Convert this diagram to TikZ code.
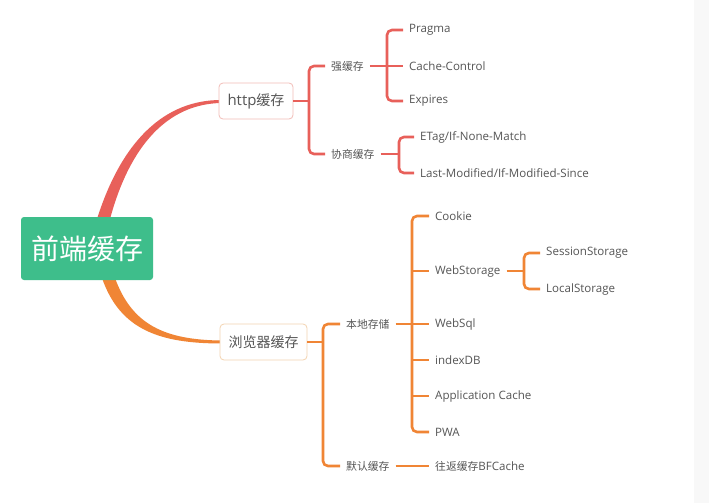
\documentclass[tikz,border=0pt]{standalone}
\usepackage{fontspec}
\setmainfont{Open Sans}[Scale=1.07]
\newfontfamily\cjk{Noto Sans CJK SC}
\definecolor{redc}{HTML}{E8605A}
\definecolor{redl}{HTML}{F2BDB8}
\definecolor{orc}{HTML}{F08535}
\definecolor{orl}{HTML}{F3D3B0}
\definecolor{greenc}{HTML}{3EBE8B}
\definecolor{txt}{HTML}{555555}
\definecolor{panel}{HTML}{F8F8F8}
\begin{document}
\begin{tikzpicture}[x=1pt,y=-1pt,
  leaf/.style={anchor=west, inner xsep=6pt, inner ysep=2pt, text=txt, font=\fontsize{10.8}{12}\selectfont},
  midbox/.style={rounded corners=4pt, fill=white, line width=0.8pt, text=txt, inner sep=0pt, minimum height=36pt, font=\fontsize{14}{15}\selectfont},
  rline/.style={draw=redc, line width=2.6pt, rounded corners=5pt},
  oline/.style={draw=orc, line width=2.6pt, rounded corners=5pt}]
\fill[white] (0,0) rectangle (709,503);
\useasboundingbox (0,0) rectangle (709,503);
\fill[panel] (694,0) rectangle (709,503);

% tapered main branches
\fill[redc] (97,219) .. controls (122,140) and (165,100) .. (221,100)
  -- (221,103) .. controls (168,104) and (130,145) .. (110,219) -- cycle;
\fill[orc] (102,278) .. controls (120,330) and (160,343.5) .. (222,343.5)
  -- (222,340.5) .. controls (165,340) and (132,325) .. (115,278) -- cycle;

\node[rounded corners=3pt, fill=greenc, text=white, minimum width=132pt, minimum height=63pt, inner sep=0pt, font=\fontsize{28}{30}\selectfont] (root) at (87,248.5) {\cjk 前端缓存};

\node[midbox, draw=redl, minimum width=74pt] (http) at (256,101) {http{\cjk 缓存}};
\node[midbox, draw=orl, minimum width=87pt] (brow) at (263.5,342) {\cjk 浏览器缓存};

% http branch
\coordinate (b1) at (309,101);
\node[leaf] (qiang) at (325,66) {\cjk 强缓存};
\node[leaf] (xie) at (325,154) {\cjk 协商缓存};
\draw[rline] (http.east) -- (b1);
\draw[rline] (qiang.west) -| (b1) |- (xie.west);

\coordinate (b2) at (387,66);
\node[leaf] (prag) at (403,30) {Pragma};
\node[leaf] (cc) at (403,66) {Cache-Control};
\node[leaf] (exp) at (403,101) {Expires};
\draw[rline] (qiang.east) -- (b2);
\draw[rline] (prag.west) -| (b2) |- (exp.west);
\draw[rline] (b2) -- (cc.west);

\coordinate (b3) at (399,154);
\node[leaf] (etag) at (414,137) {ETag/If-None-Match};
\node[leaf] (lm) at (414,173) {Last-Modified/If-Modified-Since};
\draw[rline] (xie.east) -- (b3);
\draw[rline] (etag.west) -| (b3) |- (lm.west);

% browser branch
\coordinate (b4) at (323,342);
\node[leaf] (bd) at (340,324) {\cjk 本地存储};
\node[leaf] (mr) at (340,466) {\cjk 默认缓存};
\draw[oline] (brow.east) -- (b4);
\draw[oline] (bd.west) -| (b4) |- (mr.west);

\coordinate (b5) at (412,324);
\node[leaf] (cookie) at (429,216) {Cookie};
\node[leaf] (ws) at (429,271) {WebStorage};
\node[leaf] (sql) at (429,324) {WebSql};
\node[leaf] (idb) at (429,360) {indexDB};
\node[leaf] (app) at (429,396) {Application Cache};
\node[leaf] (pwa) at (429,432) {PWA};
\draw[oline] (bd.east) -- (b5);
\draw[oline] (cookie.west) -| (b5) |- (pwa.west);
\draw[oline] (ws.west -| b5) -- (ws.west);
\draw[oline] (sql.west -| b5) -- (sql.west);
\draw[oline] (idb.west -| b5) -- (idb.west);
\draw[oline] (app.west -| b5) -- (app.west);

\coordinate (b6) at (524,271);
\node[leaf] (ss) at (540,253) {SessionStorage};
\node[leaf] (ls) at (540,289) {LocalStorage};
\draw[oline] (ws.east) -- (b6);
\draw[oline] (ss.west) -| (b6) |- (ls.west);

\node[leaf] (bf) at (429,466) {{\cjk 往返缓存}BFCache};
\draw[oline] (mr.east) -- (bf.west);
\end{tikzpicture}
\end{document}
